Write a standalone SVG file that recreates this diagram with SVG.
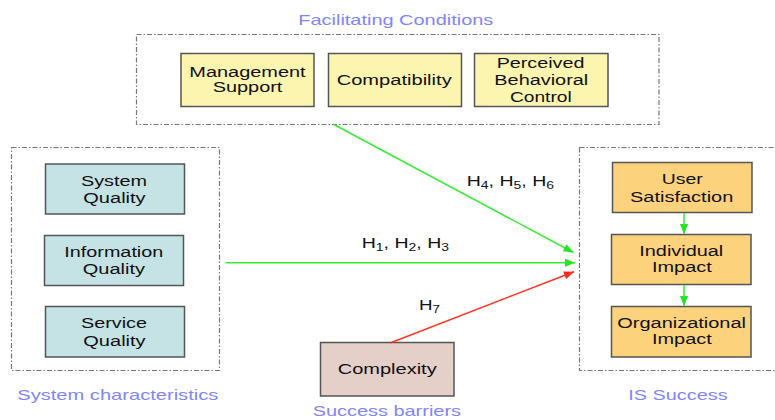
<svg xmlns="http://www.w3.org/2000/svg" width="775" height="420" viewBox="0 0 775 420">
<defs>
<style>
.grp{fill:none;stroke:#777;stroke-width:1.2;stroke-dasharray:5 2 1.5 2}
.box{stroke:#555;stroke-width:1.5}
.fc{fill:#FBF5B0}
.sc{fill:#C5E2E5}
.is{fill:#FCD27C}
.cx{fill:#E5CFC9}
.t{font-family:"Liberation Sans",Arial,sans-serif;font-size:14px;fill:#111}
.lab{font-family:"Liberation Sans",Arial,sans-serif;font-size:14.5px;fill:#7F85FF}
.g{stroke:#33EE33;stroke-width:1.5;fill:none}
.r{stroke:#FF3322;stroke-width:1.5;fill:none}
</style>
<marker id="ag" viewBox="0 0 10 8" refX="10" refY="4" markerWidth="11" markerHeight="8" markerUnits="userSpaceOnUse" orient="auto"><path d="M0,0 L10,4 L0,8 Z" fill="#22E622"/></marker>
<marker id="ar" viewBox="0 0 10 8" refX="10" refY="4" markerWidth="11" markerHeight="8" markerUnits="userSpaceOnUse" orient="auto"><path d="M0,0 L10,4 L0,8 Z" fill="#FF2A1A"/></marker>
</defs>
<rect width="775" height="420" fill="#fff"/>

<g id="facilitating-conditions">
<rect class="grp" x="136.5" y="34.5" width="522.5" height="90"/>
<text class="lab" x="298.3" y="24.5" textLength="195" lengthAdjust="spacingAndGlyphs">Facilitating Conditions</text>
</g>
<g id="system-characteristics">
<rect class="grp" x="11.5" y="147.5" width="208" height="223"/>
<text class="lab" x="17.3" y="400" textLength="201" lengthAdjust="spacingAndGlyphs">System characteristics</text>
</g>
<g id="is-success">
<rect class="grp" x="579.5" y="147.5" width="210" height="223"/>
<text class="lab" x="628.3" y="400" textLength="99.3" lengthAdjust="spacingAndGlyphs">IS Success</text>
</g>
<g id="success-barriers">
<text class="lab" x="312.7" y="416" textLength="148.3" lengthAdjust="spacingAndGlyphs">Success barriers</text>
</g>

<g id="management-support">
<rect class="box fc" x="181" y="53.5" width="133" height="53"/>
<text class="t" x="189.3" y="77" textLength="116.3" lengthAdjust="spacingAndGlyphs">Management</text>
<text class="t" x="212.7" y="91.5" textLength="69.7" lengthAdjust="spacingAndGlyphs">Support</text>
</g>
<g id="compatibility">
<rect class="box fc" x="328.5" y="53.5" width="133" height="53"/>
<text class="t" x="336.7" y="84.5" textLength="115" lengthAdjust="spacingAndGlyphs">Compatibility</text>
</g>
<g id="perceived-behavioral-control">
<rect class="box fc" x="474.5" y="53.5" width="133.5" height="53"/>
<text class="t" x="496.7" y="67.7" textLength="87.7" lengthAdjust="spacingAndGlyphs">Perceived</text>
<text class="t" x="494.3" y="85" textLength="94" lengthAdjust="spacingAndGlyphs">Behavioral</text>
<text class="t" x="510" y="101.7" textLength="61.7" lengthAdjust="spacingAndGlyphs">Control</text>
</g>

<g id="system-quality">
<rect class="box sc" x="45.5" y="164" width="139" height="50"/>
<text class="t" x="81" y="185.7" textLength="66" lengthAdjust="spacingAndGlyphs">System</text>
<text class="t" x="83.3" y="202.7" textLength="62.3" lengthAdjust="spacingAndGlyphs">Quality</text>
</g>
<g id="information-quality">
<rect class="box sc" x="44.5" y="235.5" width="139" height="50"/>
<text class="t" x="64.3" y="257.3" textLength="99" lengthAdjust="spacingAndGlyphs">Information</text>
<text class="t" x="82.7" y="274.3" textLength="62.3" lengthAdjust="spacingAndGlyphs">Quality</text>
</g>
<g id="service-quality">
<rect class="box sc" x="45.5" y="306.5" width="139" height="50.5"/>
<text class="t" x="81" y="328.3" textLength="66" lengthAdjust="spacingAndGlyphs">Service</text>
<text class="t" x="83.3" y="345.7" textLength="62.3" lengthAdjust="spacingAndGlyphs">Quality</text>
</g>

<g id="user-satisfaction">
<rect class="box is" x="612.5" y="162.5" width="139.5" height="50"/>
<text class="t" x="661.7" y="184.3" textLength="41" lengthAdjust="spacingAndGlyphs">User</text>
<text class="t" x="630" y="201.7" textLength="103.3" lengthAdjust="spacingAndGlyphs">Satisfaction</text>
</g>
<g id="individual-impact">
<rect class="box is" x="611.5" y="234.5" width="139.5" height="50"/>
<text class="t" x="639.3" y="256" textLength="84" lengthAdjust="spacingAndGlyphs">Individual</text>
<text class="t" x="652" y="272" textLength="59.7" lengthAdjust="spacingAndGlyphs">Impact</text>
</g>
<g id="organizational-impact">
<rect class="box is" x="611.5" y="306.5" width="139.5" height="50.5"/>
<text class="t" x="617.3" y="328.3" textLength="128.7" lengthAdjust="spacingAndGlyphs">Organizational</text>
<text class="t" x="652" y="344" textLength="59.7" lengthAdjust="spacingAndGlyphs">Impact</text>
</g>

<g id="complexity">
<rect class="box cx" x="320.5" y="342.5" width="133.5" height="53.5"/>
<text class="t" x="337.7" y="374" textLength="99" lengthAdjust="spacingAndGlyphs">Complexity</text>
</g>

<g id="connectors">
<line class="g" x1="333" y1="124" x2="573.5" y2="252.5" marker-end="url(#ag)"/>
<line class="g" x1="225.7" y1="262.7" x2="575" y2="262.7" marker-end="url(#ag)"/>
<line class="r" x1="390.7" y1="342.7" x2="574" y2="271.7" marker-end="url(#ar)"/>
<line class="g" x1="684" y1="213" x2="684" y2="234" marker-end="url(#ag)"/>
<line class="g" x1="684" y1="285" x2="684" y2="306" marker-end="url(#ag)"/>
<text class="t" x="466.7" y="186" textLength="87.3" lengthAdjust="spacingAndGlyphs">H<tspan font-size="10" dy="3">4</tspan><tspan dy="-3">, H</tspan><tspan font-size="10" dy="3">5</tspan><tspan dy="-3">, H</tspan><tspan font-size="10" dy="3">6</tspan></text>
<text class="t" x="361.7" y="248.3" textLength="87.3" lengthAdjust="spacingAndGlyphs">H<tspan font-size="10" dy="3">1</tspan><tspan dy="-3">, H</tspan><tspan font-size="10" dy="3">2</tspan><tspan dy="-3">, H</tspan><tspan font-size="10" dy="3">3</tspan></text>
<text class="t" x="419" y="310" textLength="21" lengthAdjust="spacingAndGlyphs">H<tspan font-size="10" dy="3">7</tspan></text>
</g>
</svg>
